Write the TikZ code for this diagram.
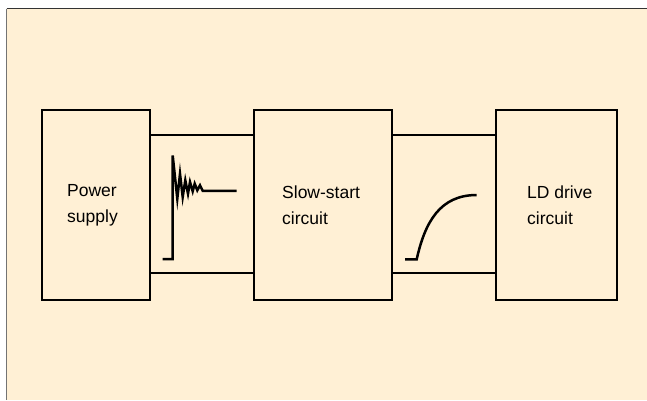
\documentclass[tikz,border=0pt]{standalone}
\usepackage{fontspec}
\setmainfont{Liberation Sans}
\definecolor{bgcol}{RGB}{255,240,213}
\begin{document}
\begin{tikzpicture}[x=1pt,y=-1pt,
  blk/.style={draw=black,line width=2.4pt,fill=bgcol},
  wire/.style={draw=black,line width=2.4pt},
  wave/.style={draw=black,line width=2.5pt,line join=miter},
  lbl/.style={anchor=west,inner sep=0pt,align=left,font=\fontsize{17.5}{26}\selectfont}]
\useasboundingbox (0,0) rectangle (647,400);
\fill[white] (0,0) rectangle (647,400);
\fill[bgcol] (7,8) rectangle (647,400);
\draw[black!80,line width=1.4pt] (6.5,8.5) -- (647,8.5);
\draw[black!55,line width=1.2pt] (6.5,8.5) -- (6.5,400);
% boxes
\node[blk,minimum width=108pt,minimum height=190pt,inner sep=0pt] (ps) at (96,205) {};
\node[blk,minimum width=138pt,minimum height=190pt,inner sep=0pt] (ss) at (323,205) {};
\node[blk,minimum width=121pt,minimum height=190pt,inner sep=0pt] (ld) at (556.5,205) {};
\node[lbl] (pst) at (67,205) {Power\\ supply};
\node[lbl] (sst) at (282,205) {Slow-start\\ circuit};
\node[lbl] (ldt) at (527,205) {LD drive\\ circuit};
% connecting wires
\draw[wire] (ps.east |- 0,135) -- (ss.west |- 0,135);
\draw[wire] (ps.east |- 0,273) -- (ss.west |- 0,273);
\draw[wire] (ss.east |- 0,135) -- (ld.west |- 0,135);
\draw[wire] (ss.east |- 0,273) -- (ld.west |- 0,273);
% ringing waveform
\draw[wave] (162.7,259) -- (172.7,259) -- (172.7,155.5) -- (177.3,198.7) -- (180,173.7)
  -- (182.7,197) -- (185.3,180.3) -- (188,193.7) -- (190,182) -- (192.7,191.3)
  -- (194.7,183.7) -- (197.3,190.3) -- (200,185.3) -- (202.7,190.8) -- (236.7,190.8);
% slow-start waveform
\draw[wave] (405,259.3) -- (416.7,259.3) .. controls (425,222) and (440,195) .. (476.7,195);
\end{tikzpicture}
\end{document}
